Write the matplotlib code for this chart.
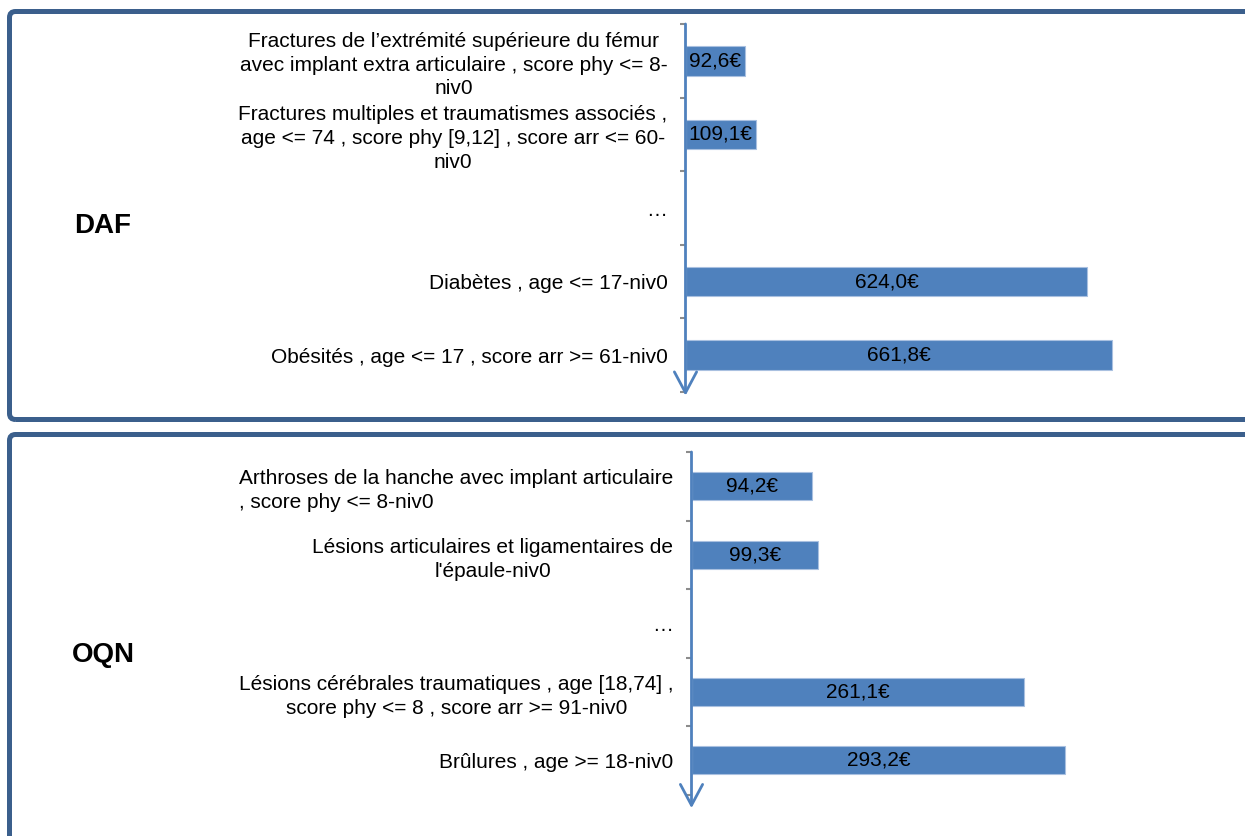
import numpy as np
import matplotlib
matplotlib.use("Agg")
import matplotlib.pyplot as plt
from matplotlib.patches import FancyBboxPatch
from matplotlib.transforms import IdentityTransform

plt.rcParams['font.family'] = ['Liberation Sans', 'DejaVu Sans']

# data
daf_labels = ["Fractures de l’extrémité supérieure du fémur\navec implant extra articulaire , score phy <= 8-\nniv0",
              "Fractures multiples et traumatismes associés ,\nage <= 74 , score phy [9,12] , score arr <= 60-\nniv0",
              "…",
              "Diabètes , age <= 17-niv0",
              "Obésités , age <= 17 , score arr >= 61-niv0"]
daf_values = [92.6, 109.1, np.nan, 624.0, 661.8]

oqn_labels = ["Arthroses de la hanche avec implant articulaire\n, score phy <= 8-niv0",
              "Lésions articulaires et ligamentaires de\nl'épaule-niv0",
              "…",
              "Lésions cérébrales traumatiques , age [18,74] ,\nscore phy <= 8 , score arr >= 91-niv0",
              "Brûlures , age >= 18-niv0"]
oqn_values = [94.2, 99.3, np.nan, 261.1, 293.2]

W, H = 1245, 836
bar_col = "#4F81BD"
frame_col = "#3B5F8C"
fs = 15

fig = plt.figure(figsize=(W / 100, H / 100), dpi=100)

# frames (pixel coords)
for x0, y0, x1, y1 in [(9.5, 416.5, 1270, 824.5), (9.5, -30, 1270, 401.5)]:
    fr = FancyBboxPatch((x0, y0), x1 - x0, y1 - y0, boxstyle="round,pad=0,rounding_size=6",
                        transform=IdentityTransform(), fill=False, lw=3.6, ec=frame_col)
    fig.add_artist(fr)


def panel(rect, labels, values, xmax, bar_h, ext, pad, title, title_xy):
    ax = fig.add_axes([rect[0] / W, rect[1] / H, rect[2] / W, rect[3] / H])
    ax.patch.set_visible(False)
    for s in ax.spines.values():
        s.set_visible(False)
    y = np.arange(len(labels))
    vals = np.array(values)
    ok = ~np.isnan(vals)
    ax.barh(y[ok], vals[ok], height=bar_h, color=bar_col, edgecolor="#A9C0E0", lw=0.8)
    for yi, v in zip(y[ok], vals[ok]):
        ax.text(v / 2, yi, ("%.1f" % v).replace(".", ",") + "€", ha="center", va="center",
                fontsize=fs, color="black")
    ax.set_xlim(0, xmax)
    ax.set_ylim(len(labels) - 0.5, -0.5)
    ax.set_xticks([])
    ax.set_yticks(y)
    ax.set_yticklabels(labels, fontsize=fs, multialignment="center", linespacing=1.32)
    ax.set_yticks(np.arange(len(labels) + 1) - 0.5, minor=True)
    ax.tick_params(axis="y", which="major", length=0, pad=pad)
    ax.tick_params(axis="y", which="minor", length=4, width=1.5, color="#8C8C8C")
    ax.annotate("", xy=(0, len(labels) - 0.5 + ext), xytext=(0, -0.5),
                arrowprops=dict(arrowstyle="->,head_length=0.75,head_width=0.4", color=bar_col,
                                lw=2, shrinkA=0, shrinkB=0, mutation_scale=20),
                annotation_clip=False)
    fig.text(title_xy[0] / W, 1 - title_xy[1] / H, title, fontsize=20, fontweight="bold",
             ha="center", va="center")
    return ax


ax1 = panel((685.5, 444, 514.5, 368), daf_labels, daf_values, 514.5 / 0.644, 0.4, 0.05, 13,
            "DAF", (103, 226))
ax2 = panel((691.5, 41.5, 508.5, 342.5), oqn_labels, oqn_values, 508.5 / 1.274, 0.41, 0.2, 13,
            "OQN", (103, 655))
ax2.get_yticklabels()[0].set_multialignment("left")

fig.savefig("out.png", dpi=100)
